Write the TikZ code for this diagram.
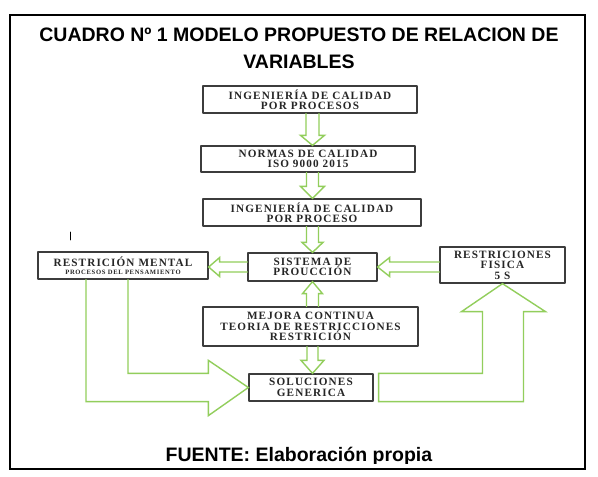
\documentclass[tikz,border=0pt]{standalone}
\usepackage{fontspec}
\setmainfont{Liberation Sans}
\newfontfamily\cajafont[LetterSpace=10]{Liberation Serif}
\usetikzlibrary{calc}

\definecolor{verde}{RGB}{146,206,92}
\definecolor{borde}{RGB}{60,60,60}

\tikzset{
  caja/.style={draw=borde, line width=1.3pt, fill=white, align=center, inner sep=1pt,
    text=black!85, font=\cajafont\bfseries\fontsize{11.2}{10.5}\selectfont},
  flecha/.style={draw=verde, line width=1.4pt, line join=miter},
  titulo/.style={font=\bfseries\fontsize{19.5}{24}\selectfont, inner sep=0pt},
}

% hollow block arrow: start, tip, half shaft, half head, head length
\newcommand{\flechahueca}[5]{%
  \coordinate (hb) at ($(#2)!#5!(#1)$);
  \draw[flecha] ($(#1)!#3!90:(#2)$) -- ($(hb)!#3!90:(#2)$) -- ($(hb)!#4!90:(#2)$)
    -- (#2) -- ($(hb)!#4!-90:(#2)$) -- ($(hb)!#3!-90:(#2)$) -- ($(#1)!#3!-90:(#2)$);}

\begin{document}
\begin{tikzpicture}[x=1pt, y=-1pt, line join=round, line cap=round]
  \useasboundingbox (0,0) rectangle (598,477);
  \fill[white] (0,0) rectangle (598,477);
  \draw[line width=2.7pt, line cap=butt, line join=miter] (10,15) rectangle (585,469);

  \node[titulo, anchor=base] (tit1) at (299,41) {CUADRO Nº 1 MODELO PROPUESTO DE RELACION DE};
  \node[titulo, anchor=base] (tit2) at (299,68) {VARIABLES};

  \node[caja, minimum width=214, minimum height=27] (iqp) at (310,99.5) {INGENIERÍA DE CALIDAD\\POR PROCESOS};
  \node[caja, minimum width=214, minimum height=26] (nor) at (308,159) {NORMAS DE CALIDAD\\ISO 9000 2015};
  \node[caja, minimum width=218, minimum height=27] (iqp2) at (312,212.5) {INGENIERÍA DE CALIDAD\\POR PROCESO};
  \node[caja, minimum width=170, minimum height=27] (rm) at (123,265.5) {RESTRICIÓN MENTAL\\[-2pt]{\fontsize{6.6}{7}\selectfont PROCESOS DEL PENSAMIENTO}};
  \node[caja, minimum width=129, minimum height=28] (sis) at (312.5,267) {SISTEMA DE\\PROUCCIÓN};
  \node[caja, minimum width=125, minimum height=36] (rf) at (502.5,265) {RESTRICIONES\\FISICA\\5 S};
  \node[caja, minimum width=215, minimum height=39] (mej) at (310.5,326.5) {MEJORA CONTINUA\\TEORIA DE RESTRICCIONES\\RESTRICIÓN};
  \node[caja, minimum width=124, minimum height=27] (sol) at (311,387.5) {SOLUCIONES\\GENERICA};

  % flechas verticales
  \flechahueca{iqp.south -| sis}{nor.north -| sis}{6.5pt}{12pt}{10pt}
  \flechahueca{nor.south -| sis}{iqp2.north -| sis}{6pt}{12pt}{12pt}
  \flechahueca{iqp2.south -| sis}{sis.north}{6pt}{10.5pt}{10pt}
  \flechahueca{mej.north -| sis}{sis.south}{6pt}{10pt}{12pt}
  \flechahueca{mej.south -| sis}{sol.north -| sis}{5.5pt}{11.5pt}{13pt}
  % flechas horizontales
  \flechahueca{sis.west}{rm.east |- sis.west}{5pt}{9.5pt}{11pt}
  \flechahueca{rf.west |- sis.east}{sis.east}{5pt}{9.5pt}{12pt}

  % flechas grandes
  \draw[flecha] ($(rm.south)+(-37,0)$) |- ($(sol.south west)+(-40,0)$) -- ++(0,14) -- (sol.west)
    -- ($(sol.north west)+(-40,-13)$) -- ($(sol.north west)+(-40,0)$) -| ($(rm.south)+(5,0)$);
  \draw[flecha] ($(sol.north east)+(5,0)$) -| ($(rf.south)+(-20,28)$) -- ++(-21,0) -- (rf.south)
    -- ($(rf.south)+(43,28)$) -- ++(-22,0) |- ($(sol.south east)+(5,0)$) -- cycle;

  \draw[line width=0.8pt] (70,232) -- (70,240);

  \begin{scope}
    \clip (0,0) rectangle (598,463);
    \node[titulo, anchor=base] (fuente) at (299,461) {FUENTE: Elaboración propia};
  \end{scope}
\end{tikzpicture}
\end{document}
